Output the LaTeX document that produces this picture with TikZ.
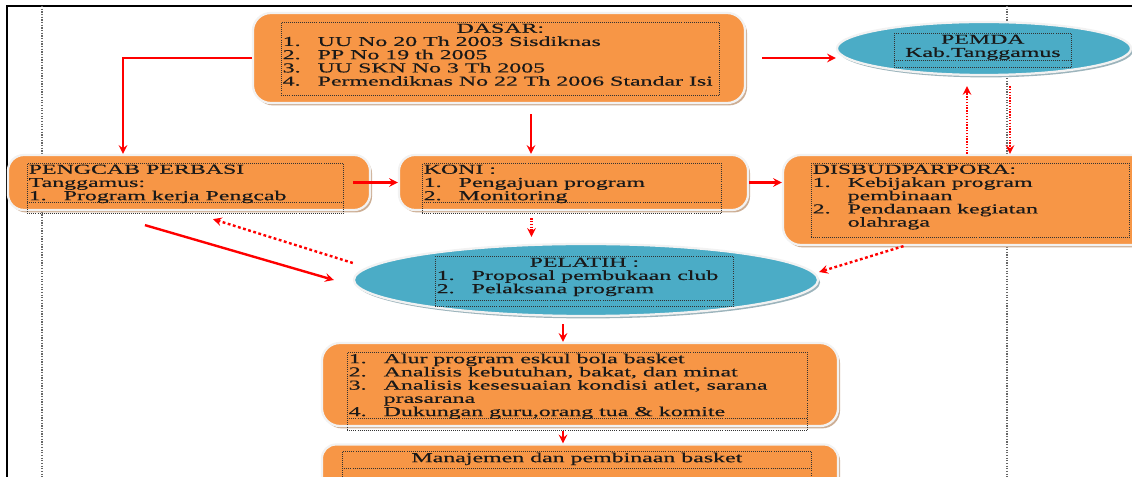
\documentclass[tikz,border=0pt]{standalone}
\usepackage{fontspec}
\setmainfont{Liberation Serif}[FakeStretch=1.75, FakeBold=0.4]
\usetikzlibrary{shapes.geometric, arrows, shadows}
\definecolor{boxorange}{HTML}{F79646}
\definecolor{ellteal}{HTML}{4BACC6}
\definecolor{shadowtan}{HTML}{CDAE94}
\definecolor{shadowblue}{HTML}{9CB4BC}
\definecolor{rimgray}{HTML}{F2F2F2}
\newcommand{\itm}[1]{\makebox[0.875cm][l]{#1}}
\newcommand{\frametext}[3]{\parbox[c][#1][t]{#2}{\raggedright #3}}
\tikzstyle{orangebox} = [rectangle, rounded corners=0.45cm, fill=boxorange, draw=rimgray, line width=1.6pt,
drop shadow={shadow xshift=0.05cm, shadow yshift=-0.06cm, fill=shadowtan, opacity=1}]
\tikzstyle{tealoval} = [ellipse, fill=ellteal, draw=rimgray, line width=1.6pt,
drop shadow={shadow xshift=0.05cm, shadow yshift=-0.06cm, fill=shadowblue, opacity=1}]
\tikzstyle{txtframe} = [draw=black!80, densely dotted, line width=0.45pt, inner sep=1pt, anchor=north west, text=black!90]
\tikzstyle{arrow} = [red, line width=1.7pt, ->, >=stealth]
\tikzstyle{dotarrow} = [arrow, dash pattern=on 2pt off 1.8pt]
\tikzstyle{densearrow} = [arrow, dash pattern=on 1pt off 1pt]
\tikzset{botline/.style={path picture={\draw[black!80, densely dotted, line width=0.45pt]
([yshift=#1]path picture bounding box.south west) -- ([yshift=#1]path picture bounding box.south east);}}}

\begin{document}
\begin{tikzpicture}[x=0.025cm, y=-0.025cm, font=\fontsize{9.7}{9.4}\selectfont]
\useasboundingbox (0,0) rectangle (1132,477);

% page frame and margins
\draw[line width=1.4pt] (7,490) -- (7,6) -- (1140,6);
\draw[black!60, densely dotted, line width=0.9pt] (42,6) -- (42,490);
\draw[black!60, densely dotted, line width=0.9pt] (1007,6) -- (1007,490);

\node (dasar) [orangebox, minimum width=12.3cm, minimum height=2.25cm] at (499,58) {};
\node (pemda) [tealoval, minimum width=7.35cm, minimum height=1.325cm] at (984,48.5) {};
\node (pengcab) [orangebox, rounded corners=0.4cm, minimum width=9.05cm, minimum height=1.375cm] at (189,182.5) {};
\node (koni) [orangebox, rounded corners=0.4cm, minimum width=8.725cm, minimum height=1.375cm] at (573.5,182.5) {};
\node (disbud) [orangebox, minimum width=9.175cm, minimum height=2.25cm] at (966.5,200) {};
\node (pelatih) [tealoval, minimum width=11.6cm, minimum height=1.8cm] at (586,280) {};
\node (eskul) [orangebox, minimum width=12.9cm, minimum height=2.075cm] at (580,384.5) {};
\node (manaj) [orangebox, rounded corners=0.35cm, minimum width=12.9cm, minimum height=1.375cm] at (580,472) {};

\node (dasartxt) [txtframe] at (281,22) {\frametext{1.755cm}{10.88cm}{{\centering DASAR:\par}
\itm{1.}UU No 20 Th 2003 Sisdiknas\\
\itm{2.}PP No 19 th 2005\\
\itm{3.}UU SKN No 3 Th 2005\\
\itm{4.}Permendiknas No 22 Th 2006 Standar Isi}};
\node (pemdatxt) [txtframe, botline=0.175cm] at (894,33) {\frametext{0.78cm}{4.355cm}{\centering PEMDA\\ Kab.Tanggamus}};
\node (pengcabtxt) [txtframe, botline=0.275cm] at (27,163) {\frametext{1.18cm}{7.83cm}{PENGCAB PERBASI\\
Tanggamus:\\
\itm{1.}Program kerja Pengcab}};
\node (konitxt) [txtframe, botline=0.275cm] at (422,163) {\frametext{1.18cm}{7.405cm}{KONI :\\
\itm{1.}Pengajuan program\\
\itm{2.}Monitoring}};
\node (disbudtxt) [txtframe] at (811,163) {\frametext{1.78cm}{7.88cm}{DISBUDPARPORA:\\
\itm{1.}Kebijakan program\\
\itm{}pembinaan\\
\itm{2.}Pendanaan kegiatan\\
\itm{}olahraga}};
\node (pelatihtxt) [txtframe, botline=0.15cm] at (435,256) {\frametext{1.18cm}{7.38cm}{{\centering PELATIH :\par}
\itm{1.}Proposal pembukaan club\\
\itm{2.}Pelaksana program}};
\node (eskultxt) [txtframe, botline=0.3cm] at (347,352) {\frametext{1.88cm}{11.43cm}{\itm{1.}Alur program eskul bola basket\\
\itm{2.}Analisis kebutuhan, bakat, dan minat\\
\itm{3.}Analisis kesesuaian kondisi atlet, sarana\\
\itm{}prasarana\\
\itm{4.}Dukungan guru,orang tua \& komite}};
\node (manajtxt) [txtframe, botline=0.575cm] at (342,451) {\frametext{0.93cm}{11.655cm}{\centering Manajemen dan pembinaan basket}};

\draw [arrow] (dasar.west) -| ([xshift=-1.65cm]pengcab.north);
\draw [arrow] ([xshift=0.8cm,yshift=-0.25cm]dasar.south) -- ([xshift=0.8cm]dasar.south |- koni.north);
\draw [arrow] ([xshift=0.4cm]dasar.east) -- (dasar.east -| pemda.west);
\draw [arrow] ([xshift=-0.45cm]pengcab.east) -- (koni.west);
\draw [arrow] (koni.east) -- (koni.east -| disbud.west);
\draw [densearrow] ([xshift=-1.05cm,yshift=-0.175cm]koni.south) -- ([xshift=-1.05cm,yshift=0.15cm]koni.south |- pelatih.north);
\draw [densearrow] ([xshift=-0.425cm]pemda.south |- disbud.north) -- ([xshift=-0.425cm,yshift=-0.25cm]pemda.south);
\draw [densearrow] ([xshift=0.65cm,yshift=-0.25cm]pemda.south) -- ([xshift=0.65cm]pemda.south |- disbud.north);
\draw [dotarrow] ([yshift=0.425cm]pelatih.west) -- ([xshift=0.6cm,yshift=-0.2cm]pengcab.south);
\draw [arrow] ([xshift=-1.1cm,yshift=-0.35cm]pengcab.south) -- ([xshift=-0.475cm]pelatih.west);
\draw [dotarrow] ([xshift=-1.575cm]disbud.south) -- ([yshift=0.2cm]pelatih.east);
\draw [arrow] ([xshift=-0.575cm,yshift=-0.175cm]pelatih.south) -- ([xshift=-0.575cm]pelatih.south |- eskul.north);
\draw [arrow] ([xshift=-0.425cm,yshift=-0.1cm]eskul.south) -- ([xshift=-0.425cm]eskul.south |- manaj.north);

\end{tikzpicture}
\end{document}
